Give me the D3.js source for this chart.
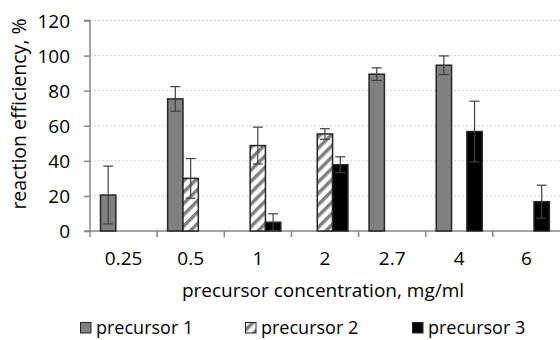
<!DOCTYPE html>
<html>
<head>
<meta charset="utf-8">
<script src="https://cdn.jsdelivr.net/npm/d3@7"></script>
<style>
  body { margin: 0; background: #fff; }
  text { font-family: "Open Sans", sans-serif; fill: #000; }
</style>
</head>
<body>
<div id="chart"></div>
<script>
// Data.
const concentrations = ['0.25', '0.5', '1', '2', '2.7', '4', '6'];
const seriesNames = ['precursor 1', 'precursor 2', 'precursor 3'];
const precursor1 = [20.5, 75.3, null, null, 89.4, 94.5, null];
const precursor2 = [null, 30, 48.7, 55.3, null, null, null];
const precursor3 = [null, null, 5, 37.8, null, 56.7, 16.7];
const error1 = [16.5, 7, null, null, 3.6, 5.3, null];
const error2 = [null, 11.3, 10.5, 3, null, null, null];
const error3 = [null, null, 4.8, 4.5, null, 17.3, 9.4];
const yTicks = [0, 20, 40, 60, 80, 100, 120];

// SVG constants.
const width = 560;
const height = 340;
const plotLeft = 90;
const plotRight = 560;
const plotTop = 20.5;
const plotBottom = 231;

const svg = d3.select('#chart')
              .append('svg')
              .attr('width', width)
              .attr('height', height);

// Stripe pattern for precursor 2.
const defs = svg.append('defs');
const pat = defs.append('pattern')
                .attr('id', 'stripes')
                .attr('patternUnits', 'userSpaceOnUse')
                .attr('width', 8)
                .attr('height', 8)
                .attr('patternTransform', 'rotate(45)');
pat.append('rect').attr('width', 8).attr('height', 8).attr('fill', '#fff');
pat.append('rect').attr('x', 0).attr('width', 3.5).attr('height', 8).attr('fill', '#808080');

const fills = ['#808080', 'url(#stripes)', '#000'];

// Scales.
const x = d3.scaleBand().domain(concentrations).range([plotLeft, plotRight]);
const x1 = d3.scaleBand().domain(seriesNames).range([10.5, 56.5]);
const y = d3.scaleLinear().domain([0, 120]).range([plotBottom, plotTop]);

// Grid.
svg.append('g')
   .selectAll('line')
   .data(yTicks.slice(1))
   .enter()
   .append('line')
   .attr('x1', plotLeft)
   .attr('x2', plotRight)
   .attr('y1', (d) => y(d))
   .attr('y2', (d) => y(d))
   .attr('stroke', '#cfcfcf')
   .attr('stroke-dasharray', '2,2');

// Axes.
const yAxis = svg.append('g')
                 .attr('transform', 'translate(' + plotLeft + ',0)')
                 .call(d3.axisLeft(y).tickValues(yTicks).tickSize(6).tickPadding(14));
const xAxis = svg.append('g')
                 .attr('transform', 'translate(0,' + plotBottom + ')')
                 .call(d3.axisBottom(x).tickSize(0).tickPadding(21));

[yAxis, xAxis].forEach((a) => {
    a.selectAll('path, line').attr('stroke', '#868686').attr('stroke-width', 1.5);
    a.selectAll('text').style('font-size', '19px').attr('fill', '#000');
});
yAxis.selectAll('text').attr('dy', '0.36em');
yAxis.select('.domain').attr('d', 'M-6,' + y(120) + 'H0V' + plotBottom + 'H-6');
xAxis.select('.domain').attr('d', 'M' + plotLeft + ',0H' + plotRight);

// Band boundary ticks on x axis.
xAxis.append('g')
     .selectAll('line')
     .data(concentrations)
     .enter()
     .append('line')
     .attr('x1', (d) => x(d))
     .attr('x2', (d) => x(d))
     .attr('y1', 0)
     .attr('y2', 6)
     .attr('stroke', '#868686')
     .attr('stroke-width', 1.5);

// Bars.
const values = [precursor1, precursor2, precursor3];
const errors = [error1, error2, error3];
const rows = [];
values.forEach((vals, s) => {
    vals.forEach((v, i) => {
        if (v !== null) {
            rows.push({ cat: concentrations[i], s: s, v: v, e: errors[s][i] });
        }
    });
});

svg.append('g')
   .selectAll('rect')
   .data(rows)
   .enter()
   .append('rect')
   .attr('x', (d) => x(d.cat) + x1(seriesNames[d.s]))
   .attr('y', (d) => y(d.v))
   .attr('width', x1.bandwidth())
   .attr('height', (d) => plotBottom - y(d.v))
   .attr('fill', (d) => fills[d.s])
   .attr('stroke', '#262626')
   .attr('stroke-width', 1.5);

// Error bars.
const err = svg.append('g')
               .selectAll('g')
               .data(rows)
               .enter()
               .append('g')
               .attr('stroke', '#404040')
               .attr('stroke-width', 1.2);
const cx = (d) => x(d.cat) + x1(seriesNames[d.s]) + x1.bandwidth() / 2;
err.append('line')
   .attr('x1', cx).attr('x2', cx)
   .attr('y1', (d) => y(d.v + d.e))
   .attr('y2', (d) => y(Math.max(0, d.v - d.e)));
err.append('line')
   .attr('x1', (d) => cx(d) - 5).attr('x2', (d) => cx(d) + 5)
   .attr('y1', (d) => y(d.v + d.e)).attr('y2', (d) => y(d.v + d.e));
err.append('line')
   .attr('x1', (d) => cx(d) - 5).attr('x2', (d) => cx(d) + 5)
   .attr('y1', (d) => y(Math.max(0, d.v - d.e))).attr('y2', (d) => y(Math.max(0, d.v - d.e)));

// Axis titles.
svg.append('text')
   .attr('transform', 'translate(26,114) rotate(-90)')
   .attr('text-anchor', 'middle')
   .style('font-size', '19.5px')
   .text('reaction efficiency, %');
svg.append('text')
   .attr('x', 323)
   .attr('y', 297)
   .attr('text-anchor', 'middle')
   .style('font-size', '19px')
   .text('precursor concentration, mg/ml');

// Legend.
const legendX = [80, 245, 412];
const legend = svg.append('g')
                  .selectAll('g')
                  .data(seriesNames)
                  .enter()
                  .append('g')
                  .attr('transform', (d, i) => 'translate(' + legendX[i] + ',0)');
legend.append('rect')
      .attr('x', 0.5)
      .attr('y', 322.5)
      .attr('width', 10.5)
      .attr('height', 10.5)
      .attr('fill', (d, i) => fills[i])
      .attr('stroke', '#262626')
      .attr('stroke-width', 1);
legend.append('text')
      .attr('x', 16)
      .attr('y', 334)
      .style('font-size', '18px')
      .text((d) => d);
</script>
</body>
</html>
